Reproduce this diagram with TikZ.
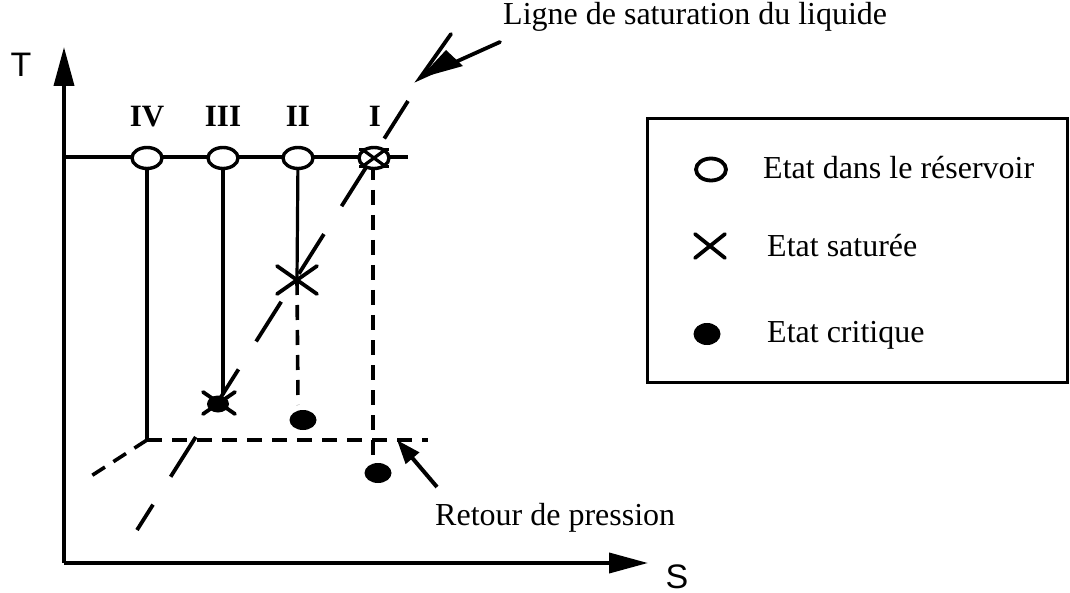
\documentclass[tikz,border=0pt]{standalone}
\usepackage{fontspec}
\setmainfont{Liberation Serif}
\newfontfamily\axisfont{Liberation Sans}
\usetikzlibrary{shapes.geometric,arrows.meta}
\begin{document}
\begin{tikzpicture}[x=1pt,y=-1pt,
  txt/.style={font=\fontsize{32}{38}\selectfont, inner sep=0pt},
  roman/.style={font=\fontsize{31}{36}\selectfont\bfseries, inner sep=0pt},
  axlab/.style={font=\axisfont\fontsize{34}{40}\selectfont, inner sep=0pt},
  oval/.style={ellipse, draw, line width=3.4, fill=white, inner sep=0pt, minimum width=30, minimum height=21},
  dotmark/.style={ellipse, fill=black, inner sep=0pt, minimum width=27, minimum height=20},
  pt/.style={inner sep=0pt, minimum size=0pt},
  axis/.style={line width=3.8, -{Triangle[length=39,width=20]}},
  solidv/.style={line width=3.2},
  dashv/.style={line width=3.6, dash pattern=on 15 off 10},
  sat/.style={line width=3.8, dash pattern=on 47 off 33, dash phase=17},
  cross/.style={line width=3.8, line cap=round},
]
\useasboundingbox (0,0) rectangle (1070,593);

% axes
\coordinate (O) at (64,563);
\coordinate (Ttip) at (64,47);
\coordinate (Stip) at (648,563);
\draw[axis] (O) -- (Ttip);
\draw[axis] (O) -- (Stip);
\node[axlab] (T) at (21,65) {T};
\node[axlab, anchor=base] (S) at (677,588) {S};

% reservoir isotherm
\coordinate (hl) at (64,157);
\coordinate (hr) at (408,157);
\draw[line width=3.2] (hl) -- (hr);

% saturation line
\coordinate (satA) at (137,530);
\coordinate (satB) at (408,101);
\draw[sat] (satA) -- (satB);

% vertical lines
\coordinate (b4) at (147,440);
\coordinate (b4r) at (160,440);
\coordinate (b3) at (223,395);
\coordinate (x2) at (297,280);
\coordinate (b2) at (298,405);
\coordinate (b1) at (373,470);
\coordinate (dR) at (428,440);
\coordinate (dL) at (88,478);

\draw[solidv] (147,157) -- (b4) -- (b4r);
\draw[solidv] (223,157) -- (b3);
\draw[solidv] (298,157) -- (x2);
\draw[dashv] (x2) -- (b2);
\draw[dashv] (373,165) -- (b1);
\draw[dashv] (b4) -- (dR);
\draw[dashv] (b4) -- (dL);

% ovals
\node[oval] (o4) at (147,158) {};
\node[oval] (o3) at (223,158) {};
\node[oval] (o2) at (298,158) {};
\node[oval] (o1) at (374,158) {};
\draw[line width=3.2] (o1.north west) -- (o1.south east) (o1.north east) -- (o1.south west);
\draw[line width=3.2] (o1.north west) ++(-3,0) -- ++(6,0) (o1.north east) ++(-3,0) -- ++(6,0)
  (o1.south west) ++(-3,0) -- ++(6,0) (o1.south east) ++(-3,0) -- ++(6,0);

% labels
\node[roman, anchor=base] (l4) at (147,127) {IV};
\node[roman, anchor=base] (l3) at (223,127) {III};
\node[roman, anchor=base] (l2) at (298,127) {II};
\node[roman, anchor=base] (l1) at (375,127) {I};

% saturated point II
\node[pt] (s2) at (297,280) {};
\draw[cross] (277,266) -- (317,294) (277,294) -- (317,266);

% point III saturated + critical
\node[dotmark, minimum width=22, minimum height=17] (c3) at (218,404) {};
\draw[cross] (203,392) -- (235,414) (203,414) -- (235,392);

% critical points
\node[dotmark] (c2) at (303,420) {};
\node[dotmark] (c1) at (378,473) {};

% annotations
\node[txt, anchor=base west] (ligne) at (503,25) {Ligne de saturation du liquide};
\coordinate (la) at (500,42);
\coordinate (ltip) at (420,78);
\draw[line width=3.8, line cap=round] (la) -- (ltip) -- (451,34);
\fill (ltip) -- (446,50) -- (463,66) -- cycle;

\node[txt, anchor=base west] (retour) at (435,525) {Retour de pression};
\coordinate (ra) at (437,487);
\coordinate (rtip) at (397,440);
\draw[line width=4, -{Triangle[length=24,width=17]}] (ra) -- (rtip);

% legend
\node[draw, line width=3.8, minimum width=420, minimum height=264, inner sep=0pt] (legend) at (857.5,250.5) {};
\node[ellipse, draw, line width=3.8, minimum width=30, minimum height=22, inner sep=0pt] (lg1) at (711,169.5) {};
\node[pt] (lg2) at (710,246) {};
\draw[cross] (695,234) -- (725,258) (695,258) -- (725,234);
\node[dotmark, minimum width=27, minimum height=22] (lg3) at (707,334) {};
\node[txt, anchor=base west] (t1) at (763,179) {Etat dans le réservoir};
\node[txt, anchor=base west] (t2) at (767,257) {Etat saturée};
\node[txt, anchor=base west] (t3) at (767,342) {Etat critique};
\end{tikzpicture}
\end{document}
